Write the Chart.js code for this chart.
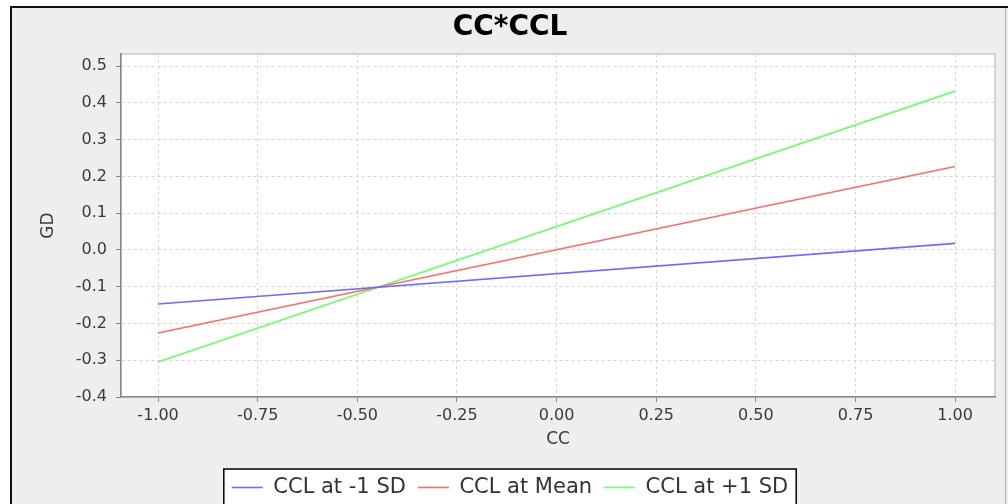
<!DOCTYPE html>
<html>
<head>
<meta charset="utf-8">
<script src="https://cdn.jsdelivr.net/npm/chart.js@4.4.1/dist/chart.umd.min.js"></script>
<style>
  html, body { margin: 0; padding: 0; background: #fff; }
  #wrap { position: relative; width: 1008px; height: 504px; overflow: hidden; }
  #frame { position: absolute; left: 10px; top: 6px; right: 0; bottom: 0; background: #eeeeee;
           border-top: 2px solid #111; border-left: 2px solid #111; }
  #edge { position: absolute; left: 1005px; top: 8px; width: 1px; bottom: 0; background: #b4b4b4; }
  #box { position: absolute; left: 0; top: 0; width: 1008px; height: 504px; }
</style>
</head>
<body>
<div id="wrap">
  <div id="frame"></div>
  <div id="edge"></div>
  <div id="box"><canvas id="chart"></canvas></div>
</div>
<script>
// valores
const ccValues = [-1.0, 1.0];
const cclLow = [-0.147, 0.018];
const cclMean = [-0.226, 0.227];
const cclHigh = [-0.305, 0.432];
const xTicks = [-1.0, -0.75, -0.5, -0.25, 0.0, 0.25, 0.5, 0.75, 1.0];
const yTicks = [-0.4, -0.3, -0.2, -0.1, 0.0, 0.1, 0.2, 0.3, 0.4, 0.5];

const seriesNames = ['CCL at -1 SD', 'CCL at Mean', 'CCL at +1 SD'];
const seriesColors = ['#6b6bff', '#ff6b6b', '#6bff6b'];
const seriesValues = [cclLow, cclMean, cclHigh];

const toPoints = (ys) => ccValues.map((x, i) => ({ x: x, y: ys[i] }));

// fondo blanco del area del grafico y caja de la leyenda
const plotBackground = {
    id: 'plotBackground',
    beforeDraw(chart) {
        const { ctx, chartArea } = chart;
        ctx.save();
        ctx.fillStyle = '#ffffff';
        ctx.fillRect(chartArea.left, chartArea.top, chartArea.right - chartArea.left, chartArea.bottom - chartArea.top);
        ctx.strokeStyle = '#c8c8c8';
        ctx.lineWidth = 1.5;
        ctx.strokeRect(chartArea.left, chartArea.top, chartArea.right - chartArea.left, chartArea.bottom - chartArea.top);

        const boxes = chart.legend.legendHitBoxes;
        if (boxes && boxes.length) {
            const left = Math.min(...boxes.map(b => b.left)) - 8;
            const right = Math.max(...boxes.map(b => b.left + b.width)) + 8;
            const top = boxes[0].top - 8;
            ctx.fillStyle = '#ffffff';
            ctx.fillRect(left, top, right - left, 60);
            ctx.strokeStyle = '#000000';
            ctx.lineWidth = 1.5;
            ctx.strokeRect(left, top, right - left, 60);
        }
        ctx.restore();
    }
};

const tickFont = { family: 'DejaVu Sans', size: 16 };
const titleFont = { family: 'DejaVu Sans', size: 17 };

new Chart(document.getElementById('chart'), {
    type: 'scatter',
    data: {
        datasets: seriesValues.map((vals, i) => ({
            label: seriesNames[i],
            data: toPoints(vals),
            showLine: true,
            borderColor: seriesColors[i],
            backgroundColor: seriesColors[i],
            borderWidth: 1.6,
            pointRadius: 0,
            pointHoverRadius: 0,
            tension: 0
        }))
    },
    options: {
        responsive: true,
        maintainAspectRatio: false,
        animation: false,
        layout: { padding: { left: 25, right: 13, top: 0, bottom: -4 } },
        plugins: {
            title: {
                display: true,
                text: 'CC*CCL',
                color: '#000',
                font: { family: 'DejaVu Sans', size: 28, weight: 'bold', lineHeight: 1.2 },
                padding: { top: 10.7, bottom: 9.7 }
            },
            legend: {
                position: 'bottom',
                labels: {
                    usePointStyle: true,
                    pointStyle: 'line',
                    pointStyleWidth: 31,
                    color: '#333',
                    padding: 12,
                    font: { family: 'DejaVu Sans', size: 21 }
                }
            },
            tooltip: { enabled: false }
        },
        scales: {
            x: {
                type: 'linear',
                min: -1.093,
                max: 1.1,
                afterBuildTicks: (scale) => { scale.ticks = xTicks.map(v => ({ value: v })); },
                afterFit: (scale) => { scale.height = 68; },
                ticks: {
                    color: '#3a3a3a',
                    font: tickFont,
                    padding: 4,
                    callback: (v) => v.toFixed(2)
                },
                grid: { color: '#d4d4d4', tickColor: '#888', tickLength: 5 },
                border: { color: '#888', width: 1.5, dash: [3, 3] },
                title: { display: true, text: 'CC', color: '#3a3a3a', font: titleFont, padding: { top: 0, bottom: 15 } }
            },
            y: {
                type: 'linear',
                min: -0.4,
                max: 0.533,
                afterBuildTicks: (scale) => { scale.ticks = yTicks.map(v => ({ value: v })); },
                afterFit: (scale) => { scale.width = 96; },
                ticks: {
                    color: '#3a3a3a',
                    font: tickFont,
                    padding: 9,
                    callback: (v) => v.toFixed(1)
                },
                grid: { color: '#d4d4d4', tickColor: '#888', tickLength: 5 },
                border: { color: '#888', width: 1.5, dash: [3, 3] },
                title: { display: true, text: 'GD', color: '#3a3a3a', font: titleFont, padding: { top: 13, bottom: 0 } }
            }
        }
    },
    plugins: [plotBackground]
});
</script>
</body>
</html>
